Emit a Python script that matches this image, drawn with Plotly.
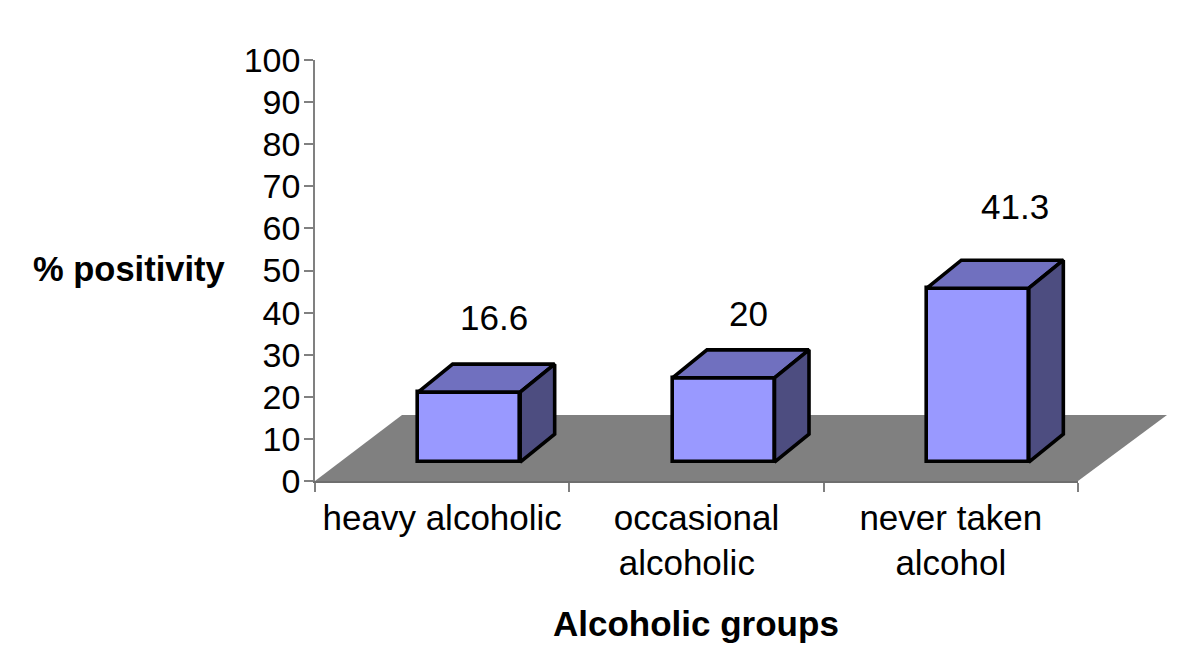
import plotly.graph_objects as go

categories = ["heavy alcoholic", "occasional<br>alcoholic\u00a0\u00a0", "never taken<br>alcohol"]
values = [16.6, 20, 41.3]
y_ticks = list(range(0, 101, 10))

PAGE = 8                # the page body's own margin
W, H = 1200 - 2 * PAGE, 671 - 2 * PAGE
L, R, T, B = 315, 1078, 60, 481   # plot box in window pixels
FONT = "Liberation Sans, Arial, sans-serif"
FS = 35
BASE = 4.5              # height of the floor under the bars
BAR_W = 102 / 254.33    # bar width in category units
SHIFT = 27 / 254.33     # bars sit right of the category centre
DX, DY = 34.5 / 254.33, 28 / 4.21  # depth offset of the 3D faces
FRONT, TOP_C, SIDE = "#9999FF", "#7070BF", "#4D4D80"
EDGE = dict(color="black", width=3.6)


def px(x):
    return (x - L) / (R - L)


def py(y):
    return (B - y) / (B - T)


fig = go.Figure()

fig.add_trace(go.Bar(
    x=categories, y=values, base=BASE, width=BAR_W, offset=SHIFT - BAR_W / 2,
    marker=dict(color=FRONT, line=EDGE), showlegend=False, hoverinfo="skip",
))

for i, v in enumerate(values):
    left = i + 0.5 + SHIFT - BAR_W / 2
    right = left + BAR_W
    top = BASE + v
    fig.add_trace(go.Scatter(
        x=[left, right, right + DX, left + DX, left],
        y=[top, top, top + DY, top + DY, top],
        xaxis="x2", mode="lines", fill="toself", fillcolor=TOP_C,
        line=EDGE, showlegend=False, hoverinfo="skip",
    ))
    fig.add_trace(go.Scatter(
        x=[right, right + DX, right + DX, right, right],
        y=[top, top + DY, BASE + DY, BASE, top],
        xaxis="x2", mode="lines", fill="toself", fillcolor=SIDE,
        line=EDGE, showlegend=False, hoverinfo="skip",
    ))

# label placement in window pixels
label_px = [(493.5, 317), (748, 313), (1015, 206)]
annotations = [
    dict(x=px(x), y=py(y), xref="paper", yref="paper", text=str(v), showarrow=False,
         xanchor="center", yanchor="middle", font=dict(family=FONT, size=FS, color="black"))
    for v, (x, y) in zip(values, label_px)
]
annotations += [
    dict(x=px(128.5), y=py(269), xref="paper", yref="paper", text="<b>% positivity</b>",
         showarrow=False, xanchor="center", yanchor="middle",
         font=dict(family=FONT, size=34.5, color="black")),
    dict(x=px(696), y=py(623), xref="paper", yref="paper", text="<b>Alcoholic groups</b>",
         showarrow=False, xanchor="center", yanchor="middle",
         font=dict(family=FONT, size=FS, color="black")),
]

floor = [(315, 481), (402, 415), (1167, 415), (1078, 481)]
floor_path = "M " + " L ".join(f"{px(x):.5f} {py(y):.5f}" for x, y in floor) + " Z"

fig.update_layout(
    width=W, height=H, autosize=False,
    margin=dict(l=L - PAGE, r=W - (R - PAGE), t=T - PAGE, b=H - (B - PAGE), pad=0),
    paper_bgcolor="white", plot_bgcolor="white", bargap=0,
    annotations=annotations,
    shapes=[dict(type="path", path=floor_path, xref="paper", yref="paper",
                 fillcolor="#808080", line=dict(width=0), layer="below")],
    font=dict(family=FONT, size=FS, color="black"),
    xaxis=dict(type="category", categoryorder="array", categoryarray=categories,
               range=[-0.5, 2.5], tickson="boundaries", ticks="outside", ticklen=9,
               tickwidth=1.5, tickcolor="#808080", showline=True, linecolor="#6e6e6e",
               linewidth=1.5, showgrid=False, zeroline=False, tickangle=0,
               ticklabelstandoff=5,
               tickfont=dict(family=FONT, size=FS, color="black")),
    xaxis2=dict(overlaying="x", anchor="y", range=[0, 3], visible=False),
    yaxis=dict(range=[0, 100], tickvals=y_ticks, ticks="outside", ticklen=9, tickwidth=1.5,
               tickcolor="#808080", showline=True, linecolor="#808080", linewidth=1.5,
               showgrid=False, zeroline=False, ticklabelstandoff=-3,
               tickfont=dict(family=FONT, size=34, color="black")),
)

fig.write_html("out.html", config=dict(displayModeBar=False))
